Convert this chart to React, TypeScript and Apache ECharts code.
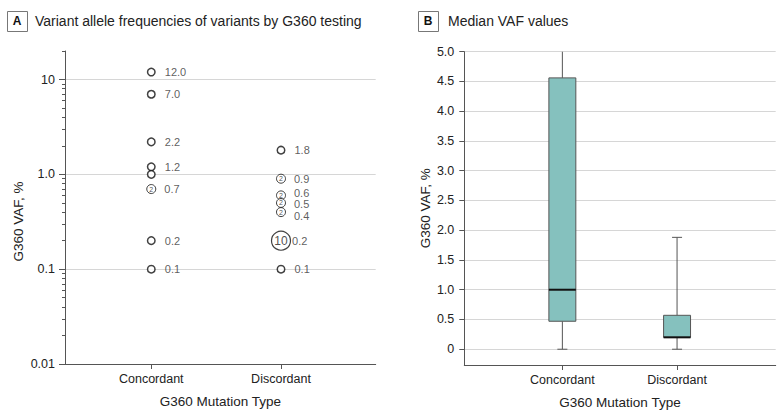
import React, { useEffect, useRef } from "react";
import * as echarts from "echarts";

// ---------- data ----------
const categories = ["Concordant", "Discordant"];

const concordantValues = [12.0, 7.0, 2.2, 1.2, 1.0, 0.7, 0.2, 0.1];
const concordantCounts = [1, 1, 1, 1, 1, 2, 1, 1];
const concordantLabels = ["12.0", "7.0", "2.2", "1.2", "", "0.7", "0.2", "0.1"];

const discordantValues = [1.8, 0.9, 0.6, 0.5, 0.4, 0.2, 0.1];
const discordantCounts = [1, 2, 2, 2, 2, 10, 1];
const discordantLabels = ["1.8", "0.9", "0.6", "0.5", "0.4", "0.2", "0.1"];

// [min, Q1, median, Q3, max]
const boxConcordant = [0, 0.47, 1.0, 4.56, 12.0];
const boxDiscordant = [0, 0.2, 0.2, 0.57, 1.88];

const logMajorTicks = [0.01, 0.1, 1, 10];
const logMajorLabels = ["0.01", "0.1", "1.0", "10"];
const logMinorTicks = [
  0.02, 0.03, 0.04, 0.05, 0.06, 0.07, 0.08, 0.09,
  0.2, 0.3, 0.4, 0.5, 0.6, 0.7, 0.8, 0.9,
  2, 3, 4, 5, 6, 7, 8, 9, 20,
];
const logMin = 0.01;
const logMax = 20;

const vafTicks = [0, 0.5, 1.0, 1.5, 2.0, 2.5, 3.0, 3.5, 4.0, 4.5, 5.0];
const vafTickLabels = ["0", "0.5", "1.0", "1.5", "2.0", "2.5", "3.0", "3.5", "4.0", "4.5", "5.0"];

const titleA = "Variant allele frequencies of variants by G360 testing";
const titleB = "Median VAF values";
const yName = "G360 VAF, %";
const xName = "G360 Mutation Type";

// ---------- styles ----------
const FONT = "'Liberation Sans', Arial, sans-serif";
const AXIS_COLOR = "#555";
const GRID_COLOR = "#d6d6d6";
const TEXT_COLOR = "#222";
const BOX_FILL = "#85c1be";
const BOX_WIDTH = 0.235;

// small vertical nudges (px) for crowded point labels in the Discordant column
const labelNudge: Record<string, number> = { "0.6": -2, "0.5": 1.5, "0.4": 3.5 };

const lg = (v: number) => Math.log10(v);

function circleStyle(count: number) {
  if (count >= 10) return { size: 19, lw: 1.2, dist: 1 };
  if (count >= 2) return { size: 9, lw: 1, dist: 8 };
  return { size: 7.5, lw: 1.5, dist: 9 };
}

function buildPoints(xi: number, values: number[], counts: number[], labels: string[], nudge: boolean) {
  return values.map((v, i) => {
    const s = circleStyle(counts[i]);
    const dy = nudge ? labelNudge[labels[i]] ?? 0 : 0;
    return {
      value: [xi, lg(v)],
      name: labels[i],
      symbolSize: s.size,
      itemStyle: { color: "#fff", borderColor: "#111", borderWidth: s.lw },
      label: { distance: s.dist, offset: [0, dy] },
    };
  });
}

function buildCounts(xi: number, values: number[], counts: number[]) {
  const out: any[] = [];
  values.forEach((v, i) => {
    if (counts[i] > 1) {
      const s = circleStyle(counts[i]);
      out.push({
        value: [xi, lg(v)],
        name: String(counts[i]),
        symbolSize: s.size,
        label: { fontSize: counts[i] >= 10 ? 12 : 7 },
      });
    }
  });
  return out;
}

function xAxisDef(gridIndex: number, min: number, max: number) {
  return {
    type: "value",
    gridIndex,
    min,
    max,
    name: xName,
    nameLocation: "middle",
    nameGap: 30,
    nameTextStyle: { fontSize: 13.5, color: TEXT_COLOR, fontFamily: FONT },
    axisLine: { show: true, onZero: false, lineStyle: { color: AXIS_COLOR, width: 1 } },
    axisTick: { show: true, customValues: [0, 1], length: 5, lineStyle: { color: AXIS_COLOR } },
    axisLabel: {
      customValues: [0, 1],
      formatter: (v: number) => categories[Math.round(v)] ?? "",
      fontSize: 12.5,
      color: TEXT_COLOR,
      margin: 8,
      fontFamily: FONT,
    },
    splitLine: { show: false },
  };
}

export default function App() {
  const ref = useRef<HTMLDivElement>(null);

  useEffect(() => {
    document.body.style.margin = "0";
    if (!ref.current) return;
    const chart = echarts.init(ref.current, undefined, { renderer: "svg" });

    const majorLog = logMajorTicks.map(lg);
    const minorLog = logMinorTicks.map(lg);

    const option: any = {
      animation: false,
      textStyle: { fontFamily: FONT },
      grid: [
        { left: 65, top: 51, width: 310.7, height: 313 },
        { left: 464.3, top: 51.7, width: 311.4, height: 313.3 },
      ],
      xAxis: [xAxisDef(0, -0.665, 1.73), xAxisDef(1, -0.855, 1.86)],
      yAxis: [
        {
          type: "value",
          gridIndex: 0,
          position: "left",
          min: lg(logMin),
          max: lg(logMax),
          name: yName,
          nameLocation: "middle",
          nameGap: 40,
          nameTextStyle: { fontSize: 13.5, color: TEXT_COLOR, fontFamily: FONT, padding: [0, 28, 0, 0] },
          axisLine: { show: true, onZero: false, lineStyle: { color: AXIS_COLOR, width: 1 } },
          axisTick: { show: true, customValues: majorLog, length: 6, lineStyle: { color: AXIS_COLOR } },
          axisLabel: {
            customValues: majorLog,
            formatter: (v: number) => {
              const i = majorLog.findIndex((t) => Math.abs(t - v) < 1e-9);
              return i >= 0 ? logMajorLabels[i] : "";
            },
            fontSize: 12.5,
            color: TEXT_COLOR,
            margin: 10,
            fontFamily: FONT,
          },
          splitLine: { show: true, lineStyle: { color: GRID_COLOR, width: 1 } },
        },
        {
          type: "value",
          gridIndex: 0,
          position: "left",
          offset: 0,
          min: lg(logMin),
          max: lg(logMax),
          axisLine: { show: false, onZero: false },
          axisTick: { show: true, customValues: minorLog, length: 3, lineStyle: { color: AXIS_COLOR } },
          axisLabel: { show: false },
          splitLine: { show: false },
        },
        {
          type: "value",
          gridIndex: 1,
          position: "left",
          min: -0.265,
          max: 5.0,
          name: yName,
          nameLocation: "middle",
          nameGap: 32,
          nameTextStyle: { fontSize: 13.5, color: TEXT_COLOR, fontFamily: FONT },
          axisLine: { show: true, onZero: false, lineStyle: { color: AXIS_COLOR, width: 1 } },
          axisTick: { show: true, customValues: vafTicks, length: 5, lineStyle: { color: AXIS_COLOR } },
          axisLabel: {
            customValues: vafTicks,
            formatter: (v: number) => {
              const i = vafTicks.findIndex((t) => Math.abs(t - v) < 1e-9);
              return i >= 0 ? vafTickLabels[i] : "";
            },
            fontSize: 12.5,
            color: TEXT_COLOR,
            margin: 10,
            fontFamily: FONT,
          },
          splitLine: { show: true, lineStyle: { color: GRID_COLOR, width: 1 } },
        },
      ],
      series: [
        {
          type: "scatter",
          xAxisIndex: 0,
          yAxisIndex: 0,
          symbol: "circle",
          z: 3,
          data: [
            ...buildPoints(0, concordantValues, concordantCounts, concordantLabels, false),
            ...buildPoints(1, discordantValues, discordantCounts, discordantLabels, true),
          ],
          label: {
            show: true,
            position: "right",
            formatter: "{b}",
            fontSize: 11,
            color: "#333",
            fontFamily: FONT,
          },
          emphasis: { disabled: true },
        },
        {
          type: "scatter",
          xAxisIndex: 0,
          yAxisIndex: 0,
          symbol: "circle",
          z: 4,
          itemStyle: { color: "rgba(0,0,0,0)" },
          data: [
            ...buildCounts(0, concordantValues, concordantCounts),
            ...buildCounts(1, discordantValues, discordantCounts),
          ],
          label: {
            show: true,
            position: "inside",
            formatter: "{b}",
            color: "#222",
            fontFamily: FONT,
          },
          emphasis: { disabled: true },
        },
        {
          type: "custom",
          xAxisIndex: 1,
          yAxisIndex: 2,
          clip: true,
          encode: { x: 0, y: [1, 2, 3, 4, 5] },
          data: [
            [0, ...boxConcordant],
            [1, ...boxDiscordant],
          ],
          renderItem: (params: any, api: any) => {
            const x = api.value(0);
            const pMin = api.coord([x, api.value(1)]);
            const pQ1 = api.coord([x, api.value(2)]);
            const pMd = api.coord([x, api.value(3)]);
            const pQ3 = api.coord([x, api.value(4)]);
            const pMax = api.coord([x, api.value(5)]);
            const cx = pMin[0];
            const halfW = api.size([BOX_WIDTH, 0])[0] / 2;
            const capW = 5;
            const ls = { stroke: AXIS_COLOR, lineWidth: 1 };
            return {
              type: "group",
              children: [
                { type: "line", shape: { x1: cx, y1: pQ3[1], x2: cx, y2: pMax[1] }, style: ls },
                { type: "line", shape: { x1: cx, y1: pQ1[1], x2: cx, y2: pMin[1] }, style: ls },
                { type: "line", shape: { x1: cx - capW, y1: pMax[1], x2: cx + capW, y2: pMax[1] }, style: ls },
                { type: "line", shape: { x1: cx - capW, y1: pMin[1], x2: cx + capW, y2: pMin[1] }, style: ls },
                {
                  type: "rect",
                  shape: { x: cx - halfW, y: pQ3[1], width: halfW * 2, height: pQ1[1] - pQ3[1] },
                  style: { fill: BOX_FILL, stroke: AXIS_COLOR, lineWidth: 1 },
                },
                {
                  type: "line",
                  shape: { x1: cx - halfW, y1: pMd[1], x2: cx + halfW, y2: pMd[1] },
                  style: { stroke: "#111", lineWidth: 2 },
                },
              ],
            };
          },
        },
      ],
      graphic: [
        { type: "rect", left: 7, top: 11, shape: { width: 20, height: 20 }, style: { fill: "#fff", stroke: "#777", lineWidth: 1 } },
        { type: "text", x: 17, y: 21, style: { text: "A", fontSize: 12, fontWeight: "bold", fill: "#111", align: "center", verticalAlign: "middle", fontFamily: FONT } },
        { type: "text", x: 35, y: 21, style: { text: titleA, fontSize: 14, fill: TEXT_COLOR, verticalAlign: "middle", fontFamily: FONT } },
        { type: "rect", left: 418, top: 11, shape: { width: 20, height: 20 }, style: { fill: "#fff", stroke: "#777", lineWidth: 1 } },
        { type: "text", x: 428, y: 21, style: { text: "B", fontSize: 12, fontWeight: "bold", fill: "#111", align: "center", verticalAlign: "middle", fontFamily: FONT } },
        { type: "text", x: 448, y: 21, style: { text: titleB, fontSize: 14, fill: TEXT_COLOR, verticalAlign: "middle", fontFamily: FONT } },
      ],
    };

    chart.setOption(option);
    return () => chart.dispose();
  }, []);

  return <div ref={ref} style={{ width: 783, height: 419 }} />;
}
